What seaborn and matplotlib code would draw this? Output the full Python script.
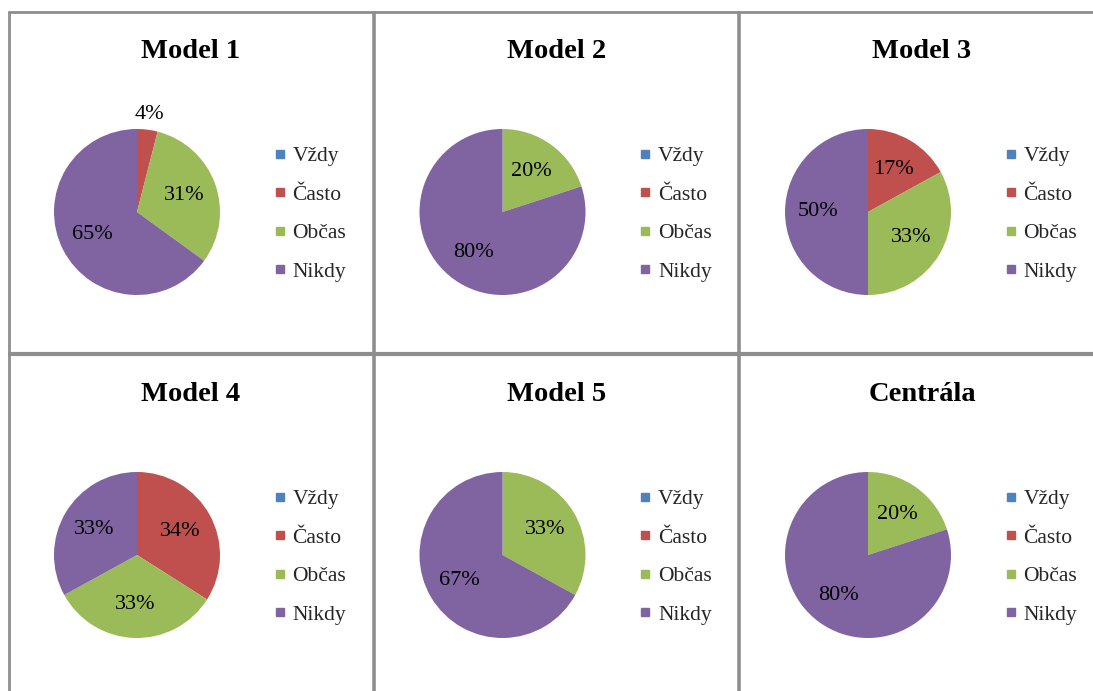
import matplotlib
matplotlib.use("Agg")
import matplotlib.pyplot as plt
from matplotlib.lines import Line2D
import seaborn as sns
import numpy as np

sns.set_theme(style="white")
plt.rcParams["font.family"] = ["Liberation Serif", "DejaVu Serif"]

# Answer categories and their colours
categories = ["Vždy", "Často", "Občas", "Nikdy"]
colors = ["#4F81BD", "#C0504D", "#9BBB59", "#8064A2"]

# Share of answers (%) for each unit
titles = ["Model 1", "Model 2", "Model 3", "Model 4", "Model 5", "Centrála"]
model1 = [0, 4, 31, 65]
model2 = [0, 0, 20, 80]
model3 = [0, 17, 33, 50]
model4 = [0, 34, 33, 33]
model5 = [0, 0, 33, 67]
centrala = [0, 0, 20, 80]
series = [model1, model2, model3, model4, model5, centrala]

W, H = 1093, 691
fig = plt.figure(figsize=(W / 100, H / 100), dpi=100)
fig.patch.set_facecolor("white")

# grid of panel frames (pixel coordinates from the top-left corner)
frame_col = "#8e8e8e"
def hline(y, x0, x1, lw):
    fig.add_artist(Line2D([x0 / W, x1 / W], [1 - y / H, 1 - y / H],
                          color=frame_col, lw=lw, solid_capstyle="butt"))
def vline(x, y0, y1, lw):
    fig.add_artist(Line2D([x / W, x / W], [1 - y0 / H, 1 - y1 / H],
                          color=frame_col, lw=lw, solid_capstyle="butt"))

hline(12, 8, W, 2.0)
hline(354, 8, W, 3.0)
vline(9, 11, H, 2.0)
vline(374, 11, H, 2.6)
vline(739, 11, H, 2.6)

panel_w, panel_h = 365.5, 343
radius = 83

handles = [Line2D([], [], marker="s", linestyle="none", markersize=6,
                  markerfacecolor=c, markeredgecolor=c) for c in colors]

for i, (title, vals) in enumerate(zip(titles, series)):
    col, row = i % 3, i // 3
    left = 9 + panel_w * col
    cx = 137 + panel_w * col
    cy = 212 + panel_h * row

    fig.text((left + 182) / W, 1 - (51 + panel_h * row) / H, title,
             ha="center", va="center", fontsize=20.5, fontweight="bold",
             color="black")

    ax = fig.add_axes([(cx - radius) / W, 1 - (cy + radius) / H,
                       2 * radius / W, 2 * radius / H])
    total = float(sum(vals))
    wedges, texts, autotexts = ax.pie(
        vals, colors=colors, startangle=90, counterclock=False,
        radius=1.0, pctdistance=0.6,
        autopct=lambda p: f"{p:.0f}%" if p > 0.5 else "",
        textprops=dict(fontsize=16, color="black"),
        wedgeprops=dict(linewidth=0))
    # small slices get their label outside the pie
    for w, t, v in zip(wedges, autotexts, vals):
        if 0 < v / total < 0.1:
            ang = np.deg2rad((w.theta1 + w.theta2) / 2)
            t.set_position((1.19 * np.cos(ang), 1.19 * np.sin(ang)))
    ax.set_xlim(-1, 1)
    ax.set_ylim(-1, 1)
    ax.set_aspect("equal")
    ax.axis("off")

    fig.legend(handles, categories, loc="center left",
               bbox_to_anchor=((left + 263) / W, 1 - (cy + 2) / H),
               frameon=False, fontsize=15.5, handlelength=0.7,
               handletextpad=0.25, labelspacing=0.86, borderaxespad=0,
               borderpad=0)

fig.savefig("out.png", dpi=100, facecolor="white")
